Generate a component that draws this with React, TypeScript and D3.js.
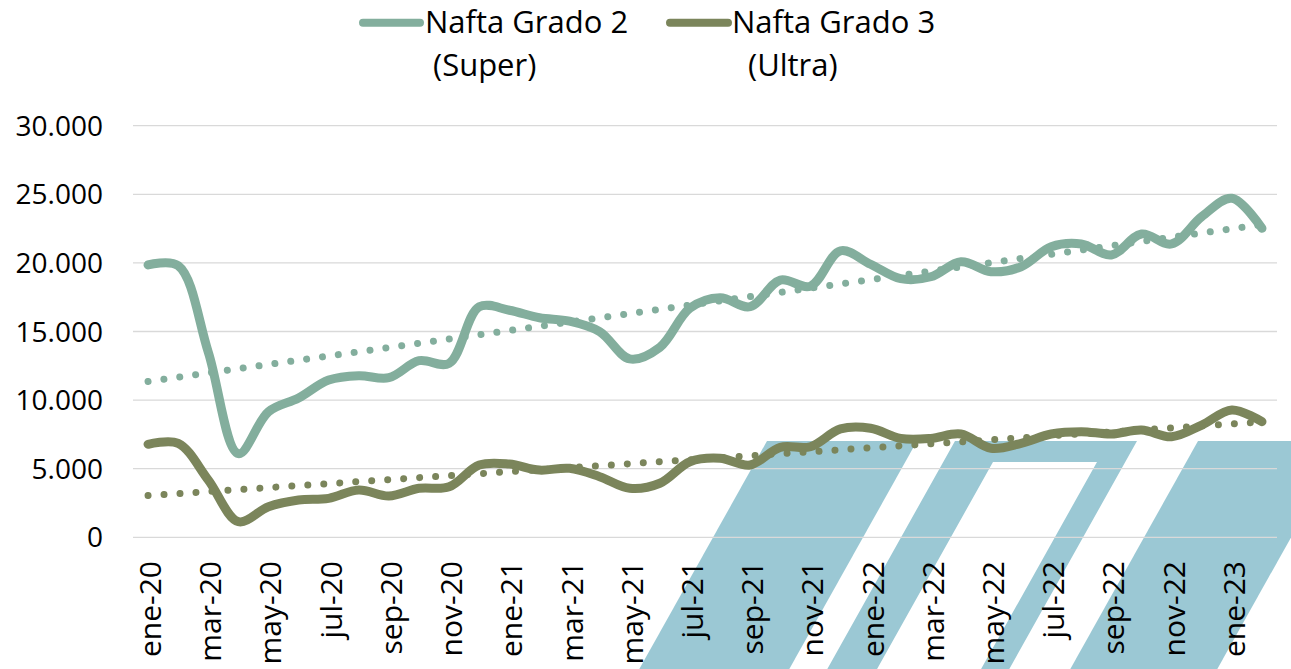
import * as d3 from "d3";

const months = [
  "ene-20", "feb-20", "mar-20", "abr-20", "may-20", "jun-20", "jul-20", "ago-20", "sep-20", "oct-20", "nov-20", "dic-20",
  "ene-21", "feb-21", "mar-21", "abr-21", "may-21", "jun-21", "jul-21", "ago-21", "sep-21", "oct-21", "nov-21", "dic-21",
  "ene-22", "feb-22", "mar-22", "abr-22", "may-22", "jun-22", "jul-22", "ago-22", "sep-22", "oct-22", "nov-22", "dic-22",
  "ene-23", "feb-23",
];

// Nafta Grado 2 (Super)
const superValues = [
  19850, 19800, 13500, 6100, 9150, 10150, 11460, 11780, 11630, 12870, 12680, 16800,
  16550, 16000, 15750, 14990, 13000, 13850, 16700, 17460, 16810, 18750, 18300, 20880,
  19900, 18850, 18990, 20090, 19360, 19720, 21180, 21380, 20580, 22110, 21380, 23370,
  24710, 22520,
];

// Nafta Grado 3 (Ultra)
const ultraValues = [
  6780, 6850, 4180, 1140, 2230, 2720, 2840, 3450, 3010, 3570, 3680, 5270,
  5340, 4900, 5030, 4420, 3570, 3940, 5510, 5760, 5270, 6560, 6600, 7900,
  7950, 7210, 7210, 7530, 6490, 6850, 7530, 7700, 7530, 7820, 7330, 8180,
  9280, 8430,
];

const yTicks = [0, 5000, 10000, 15000, 20000, 25000, 30000];
const yTickLabels = ["0", "5.000", "10.000", "15.000", "20.000", "25.000", "30.000"];

const seriesNames = [
  ["Nafta Grado 2", "(Super)"],
  ["Nafta Grado 3", "(Ultra)"],
];

const COLOR_SUPER = "#83ae9d";
const COLOR_ULTRA = "#7b855b";
const WATERMARK = "#9bc8d4";
const FONT = "'Open Sans', 'DejaVu Sans', sans-serif";

const W = 1291;
const H = 669;

function trend(values: number[]) {
  const n = values.length;
  const mx = d3.mean(values, (_, i) => i)!;
  const my = d3.mean(values)!;
  let num = 0;
  let den = 0;
  values.forEach((v, i) => {
    num += (i - mx) * (v - my);
    den += (i - mx) * (i - mx);
  });
  const slope = num / den;
  const b = my - slope * mx;
  return d3.range(n).map((i) => b + slope * i);
}

export default function App() {
  const x = d3.scaleBand<string>().domain(months).range([133, 1277]);
  const xc = (i: number) => (x(months[i]) ?? 0) + x.bandwidth() / 2;
  const y = d3.scaleLinear().domain([0, 30000]).range([537.3, 125.7]);

  const smooth = d3
    .line<number>()
    .x((_, i) => xc(i))
    .y((d) => y(d))
    .curve(d3.curveCatmullRom.alpha(0.5));

  const straight = d3
    .line<number>()
    .x((_, i) => xc(i))
    .y((d) => y(d));

  const series = [
    { values: superValues, color: COLOR_SUPER, names: seriesNames[0] },
    { values: ultraValues, color: COLOR_ULTRA, names: seriesNames[1] },
  ];

  // background logo (slanted bars)
  const s = 0.56;
  const top = 441;
  const bot = H;
  const dx = s * (bot - top);
  const barA = `M767,${top}L917,${top}L${917 - dx},${bot}L${767 - dx},${bot}Z`;
  const innerTop = 462;
  const dxi = s * (bot - innerTop);
  const barB =
    `M955,${top}L1137,${top}L${1137 - dx},${bot}L${955 - dx},${bot}Z` +
    `M993,${innerTop}L1097,${innerTop}L${1097 - dxi},${bot}L${993 - dxi},${bot}Z`;
  const barC = `M1198,${top}L1345,${top}L${1345 - dx},${bot}L${1198 - dx},${bot}Z`;

  const legendItems = [
    { x1: 363, x2: 420, tx: 425, tx2: 433 },
    { x1: 670, x2: 728, tx: 732, tx2: 748 },
  ];

  return (
    <svg
      width={W}
      height={H}
      style={{ position: "absolute", left: 0, top: 0, display: "block", background: "#fff" }}
      fontFamily={FONT}
    >
      <g fill={WATERMARK}>
        <path d={barA} />
        <path d={barB} fillRule="evenodd" />
        <path d={barC} />
      </g>

      <g>
        {yTicks.map((t, i) => (
          <g key={t}>
            <line x1={133} x2={1277} y1={y(t)} y2={y(t)} stroke="#d9d9d9" strokeWidth={1.3} />
            <text x={103} y={y(t)} dy="0.36em" textAnchor="end" fontSize={28} fill="#000">
              {yTickLabels[i]}
            </text>
          </g>
        ))}
      </g>

      <g>
        {months.map((m, i) =>
          i % 2 === 0 ? (
            <text
              key={m}
              transform={`translate(${xc(i) + 13},561) rotate(-90)`}
              textAnchor="end"
              fontSize={30}
              fill="#000"
            >
              {m}
            </text>
          ) : null
        )}
      </g>

      {series.map((sr, k) => (
        <g key={k}>
          <path
            d={smooth(sr.values) ?? ""}
            fill="none"
            stroke={sr.color}
            strokeWidth={9}
            strokeLinecap="round"
            strokeLinejoin="round"
          />
          <path
            d={straight(trend(sr.values)) ?? ""}
            fill="none"
            stroke={sr.color}
            strokeWidth={7}
            strokeLinecap="round"
            strokeDasharray="0.01 16"
          />
        </g>
      ))}

      <g>
        {series.map((sr, k) => {
          const it = legendItems[k];
          return (
            <g key={k}>
              <line x1={it.x1} x2={it.x2} y1={22.7} y2={22.7} stroke={sr.color} strokeWidth={8} strokeLinecap="round" />
              <text x={it.tx} y={33} fontSize={31} fill="#000">
                {sr.names[0]}
              </text>
              <text x={it.tx2} y={76} fontSize={31} fill="#000">
                {sr.names[1]}
              </text>
            </g>
          );
        })}
      </g>
    </svg>
  );
}
